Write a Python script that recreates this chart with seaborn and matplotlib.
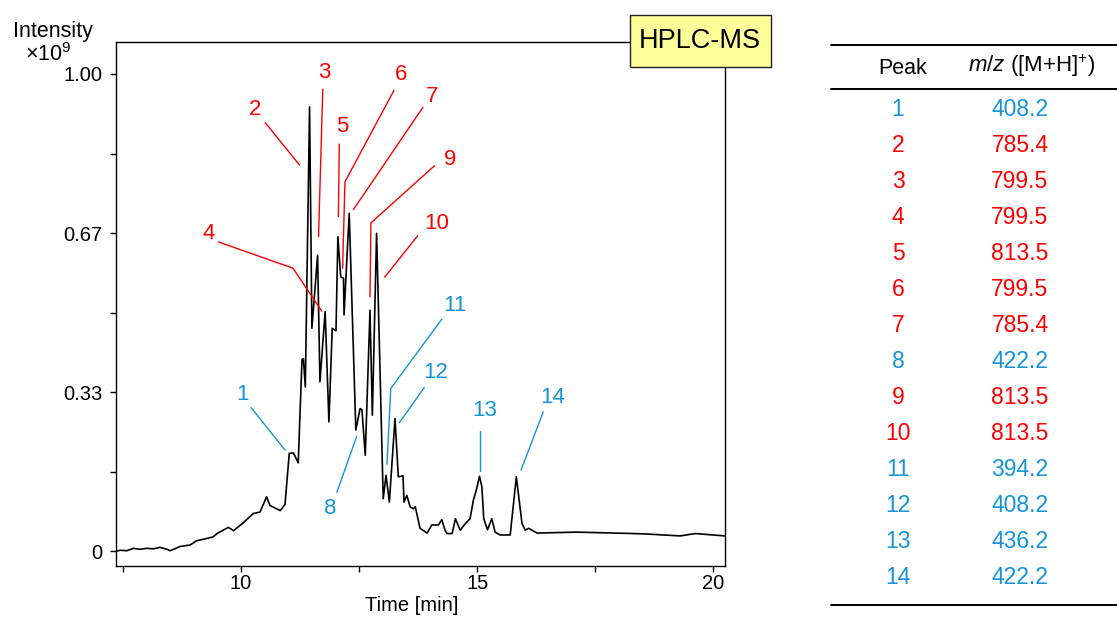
import matplotlib
matplotlib.use("Agg")
import matplotlib.pyplot as plt
import seaborn as sns
from matplotlib.patches import Rectangle
from matplotlib.lines import Line2D
from matplotlib.ticker import FixedLocator

# chromatogram trace
time_min = [7.35, 7.44, 7.58, 7.72, 7.86, 8.00, 8.14, 8.28, 8.43, 8.50, 8.71, 8.92,
            9.06, 9.20, 9.41, 9.49, 9.73, 9.84, 10.05, 10.26, 10.40, 10.54, 10.61,
            10.83, 10.93, 11.02, 11.11, 11.21, 11.29, 11.32, 11.36, 11.45, 11.50,
            11.62, 11.67, 11.78, 11.86, 11.93, 12.01, 12.05, 12.11, 12.17, 12.18,
            12.29, 12.43, 12.52, 12.56, 12.63, 12.73, 12.78, 12.87, 13.01, 13.07,
            13.14, 13.26, 13.33, 13.43, 13.45, 13.51, 13.58, 13.65, 13.69, 13.79,
            13.94, 14.04, 14.18, 14.25, 14.32, 14.36, 14.47, 14.54, 14.64, 14.75,
            14.85, 14.92, 14.99, 15.05, 15.10, 15.14, 15.22, 15.31, 15.38, 15.49,
            15.70, 15.83, 15.95, 16.02, 16.09, 16.27, 17.11, 18.31, 18.60, 19.30,
            19.62, 20.25]
intensity = [0.000, 0.002, 0.001, 0.006, 0.004, 0.006, 0.005, 0.008, 0.004, 0.001,
             0.010, 0.013, 0.022, 0.025, 0.030, 0.037, 0.050, 0.043, 0.060, 0.079,
             0.082, 0.114, 0.096, 0.085, 0.098, 0.205, 0.206, 0.185, 0.402, 0.403,
             0.344, 0.931, 0.467, 0.620, 0.355, 0.502, 0.271, 0.467, 0.462, 0.659,
             0.575, 0.572, 0.495, 0.708, 0.254, 0.299, 0.296, 0.201, 0.505, 0.285,
             0.666, 0.110, 0.159, 0.103, 0.278, 0.156, 0.158, 0.103, 0.117, 0.093,
             0.089, 0.093, 0.048, 0.038, 0.055, 0.055, 0.066, 0.044, 0.037, 0.037,
             0.068, 0.044, 0.058, 0.068, 0.107, 0.131, 0.157, 0.135, 0.068, 0.045,
             0.068, 0.040, 0.034, 0.034, 0.156, 0.058, 0.044, 0.048, 0.038, 0.040,
             0.037, 0.036, 0.032, 0.037, 0.032]

# peak table
peaks = [str(i) for i in range(1, 15)]
mz = ["408.2", "785.4", "799.5", "799.5", "813.5", "799.5", "785.4",
      "422.2", "813.5", "813.5", "394.2", "408.2", "436.2", "422.2"]
peak_group = ["b", "r", "r", "r", "r", "r", "r", "b", "r", "r", "b", "b", "b", "b"]

# label anchor (time, intensity) and leader polylines
label_pos = [(10.04, 0.329), (10.30, 0.925), (11.76, 1.003), (9.31, 0.665),
             (12.15, 0.890), (13.39, 0.998), (14.04, 0.952), (11.89, 0.090),
             (14.43, 0.820), (14.15, 0.687), (14.53, 0.514), (14.13, 0.375),
             (15.15, 0.294), (16.61, 0.323)]
leaders = [
    [(10.21, 0.301), (10.93, 0.212)],
    [(10.51, 0.898), (11.24, 0.809)],
    [(11.73, 0.968), (11.64, 0.659)],
    [(9.52, 0.648), (11.10, 0.593), (11.71, 0.503)],
    [(12.08, 0.853), (12.06, 0.701)],
    [(13.24, 0.966), (12.20, 0.774), (12.15, 0.593)],
    [(13.85, 0.930), (12.38, 0.716)],
    [(12.03, 0.124), (12.45, 0.241)],
    [(14.10, 0.808), (12.75, 0.688), (12.73, 0.533)],
    [(13.74, 0.661), (13.04, 0.574)],
    [(14.25, 0.486), (13.17, 0.341), (13.09, 0.182)],
    [(13.88, 0.343), (13.35, 0.269)],
    [(15.05, 0.252), (15.05, 0.168)],
    [(16.40, 0.292), (15.93, 0.170)],
]

RED = "#ff0000"
BLUE = "#1694d8"
colors = {"r": RED, "b": BLUE}

sns.set_style("ticks")
plt.rcParams["font.family"] = ["Liberation Sans", "DejaVu Sans"]
plt.rcParams["mathtext.fontset"] = "custom"
plt.rcParams["mathtext.rm"] = "Liberation Sans"
plt.rcParams["mathtext.it"] = "Liberation Sans:italic"
plt.rcParams["text.color"] = "black"
plt.rcParams["axes.labelcolor"] = "black"
plt.rcParams["xtick.color"] = "black"
plt.rcParams["ytick.color"] = "black"

W, H = 1117, 619
fig = plt.figure(figsize=(W / 100, H / 100), dpi=100)


def fx(px):
    return px / W


def fy(py):
    return 1 - py / H


ax = fig.add_axes([fx(116), fy(566), fx(725) - fx(116), fy(42) - fy(566)])
sns.lineplot(x=time_min, y=intensity, ax=ax, color="black", lw=1.2,
             estimator=None, sort=False)

ax.set_xlim(7.35, 20.25)
ax.set_ylim(-0.031, 1.067)
ax.set_xticks([10, 15, 20])
ax.xaxis.set_minor_locator(FixedLocator([7.5, 12.5, 17.5]))
ax.set_yticks([0, 1 / 3, 2 / 3, 1])
ax.set_yticklabels(["0", "0.33", "0.67", "1.00"])
ax.yaxis.set_minor_locator(FixedLocator([1 / 6, 0.5, 5 / 6]))
ax.tick_params(which="both", direction="out", length=4.5, width=1, color="black")
ax.tick_params(axis="x", labelsize=14.5, pad=1)
ax.tick_params(axis="y", labelsize=14.5, pad=5)
for s in ax.spines.values():
    s.set_linewidth(1.0)
    s.set_color("black")
ax.set_xlabel("Time [min]", fontsize=14.5)
ax.xaxis.set_label_coords((412 - 116) / 609, -0.058)
ax.set_ylabel("")

for i, p in enumerate(peaks):
    c = colors[peak_group[i]]
    xs = [pt[0] for pt in leaders[i]]
    ys = [pt[1] for pt in leaders[i]]
    ax.plot(xs, ys, color=c, lw=1.0)
    ax.text(label_pos[i][0], label_pos[i][1], p, color=c, fontsize=16,
            ha="center", va="center")

# y axis title
fig.text(fx(13), fy(31), "Intensity", fontsize=15.5, ha="left", va="center")
fig.text(fx(25), fy(55), r"×10$^{9}$", fontsize=15.5, ha="left", va="center")

# HPLC-MS box
fig.add_artist(Rectangle((fx(630), fy(67)), fx(771) - fx(630), fy(15) - fy(67),
                         transform=fig.transFigure, facecolor="#ffff99",
                         edgecolor="#222222", lw=1.0, zorder=5))
fig.text(fx(700), fy(41), "HPLC-MS", fontsize=19.5, ha="center", va="center",
         zorder=6)

# peak table
for py in [44.5, 89, 605]:
    fig.add_artist(Line2D([fx(831), 1.0], [fy(py), fy(py)], color="black",
                          lw=1.4, transform=fig.transFigure))
fig.text(fx(903), fy(68), "Peak", fontsize=15.5, ha="center", va="center")
fig.text(fx(1032), fy(66), r"$m/z$ ([M+H]$^{+}$)", fontsize=16, ha="center",
         va="center")
row_top, row_bot = 110, 577
step = (row_bot - row_top) / (len(peaks) - 1)
for i, p in enumerate(peaks):
    c = colors[peak_group[i]]
    yy = fy(row_top + i * step)
    fig.text(fx(898), yy, p, fontsize=16.5, color=c, ha="center", va="center")
    fig.text(fx(1020), yy, mz[i], fontsize=16.5, color=c, ha="center", va="center")

fig.savefig("out.png", dpi=100)
